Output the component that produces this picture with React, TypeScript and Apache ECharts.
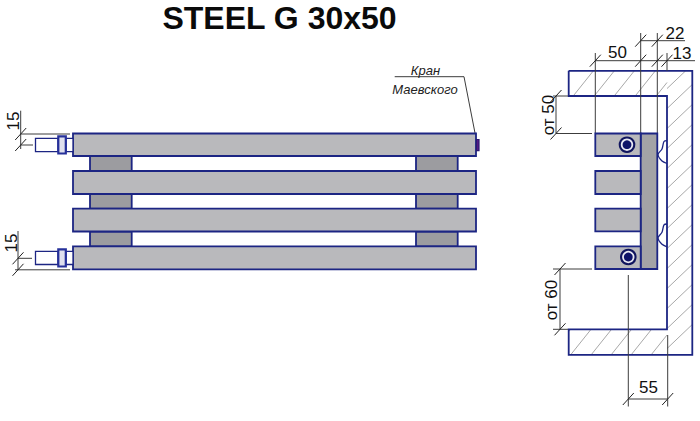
import React, { useEffect, useRef } from "react";
import * as echarts from "echarts";

const titleText = "STEEL G 30x50";
const NAVY = "#1c2583";
const DIM = "#3c3c3c";
const HATCH = "#a8a8a8";

// x0, y0, x1, y1 in drawing units
const frontTubes = [
  [73, 133.5, 476, 156],
  [73, 171, 476, 194],
  [73, 208.7, 476, 231.5],
  [73, 246.3, 476, 269.3],
];
const frontSpacers = [
  [90, 156, 131.7, 171],
  [90, 194, 131.7, 208.7],
  [90, 231.5, 131.7, 246.3],
  [416, 156, 457.7, 171],
  [416, 194, 457.7, 208.7],
  [416, 231.5, 457.7, 246.3],
];
const pipes = [
  [35.5, 138.3, 58, 151.7],
  [66, 138.3, 73, 151.7],
  [35.5, 251.3, 58, 264.5],
  [66, 251.3, 73, 264.5],
];
const couplings = [
  [58.3, 136.3, 65.8, 153.5],
  [58.3, 249.3, 65.8, 266.5],
];
const airValve = [[476.5, 139.5, 479, 150.7]];
const sideTubes = [
  [595.3, 133.5, 640.7, 156],
  [595.3, 171, 640.7, 194],
  [595.3, 208.7, 640.7, 231.3],
  [595.3, 246.3, 640.7, 269],
];
const sideColumn = [[640.7, 133.5, 657.3, 269]];
const sidePorts = [
  [627, 144.7],
  [628.3, 257],
];
const wallOutline = [
  [568.7, 70.8],
  [692.3, 70.8],
  [692.3, 354.8],
  [568.7, 354.8],
  [568.7, 329.3],
  [667, 329.3],
  [667, 96],
  [568.7, 96],
  [568.7, 70.8],
];
const brackets = [
  [[667, 140.7], [664, 141.5], [662, 149], [658, 154.5], [662, 161], [667, 163.5]],
  [[667, 224], [664, 224.8], [662, 232.3], [658, 237.8], [662, 244.3], [667, 246.8]],
];
const topArmRegion = [568.7, 70.8, 667, 96];
const wallRegion = [667, 70.8, 692.3, 354.8];
const bottomArmRegion = [568.7, 329.3, 667, 354.8];
const topArmOffsets = [650, 671, 691, 712, 733];
const wallOffsets = [760, 781, 802, 823, 844, 865, 886, 907, 928, 949, 970, 991, 1012, 1033];
const bottomArmOffsets = [834, 854.5, 875, 895, 915, 935, 955];
const armSlope = 0.8;
const wallSlope = 1.05;

const dimensionLines = [
  // 15 upper
  [20.7, 110.7, 20.7, 149],
  [20.7, 134, 70, 134],
  [20.7, 145, 33, 145],
  // 15 lower
  [18, 231, 18, 270],
  [18, 258.3, 32, 258.3],
  [15, 269.8, 70, 269.8],
  // side verticals
  [595.3, 53, 595.3, 133.5],
  [640.7, 33, 640.7, 133.5],
  [657.3, 33, 657.3, 133.5],
  [667, 53, 667, 71],
  [595.3, 60.7, 695, 60.7],
  [640.7, 40.7, 685, 40.7],
  // от 50
  [556, 96, 556, 133.5],
  [553, 96, 568, 96],
  [556, 133.5, 592, 133.5],
  // от 60
  [560, 269, 560, 329.3],
  [553, 269, 592, 269],
  [553, 329.3, 568, 329.3],
  // 55
  [628.3, 275, 628.3, 406.5],
  [667.7, 335, 667.7, 406.5],
  [628.3, 399, 667.7, 399],
];
const dimensionTicks = [
  [20.7, 134], [20.7, 145], [18, 258.3], [18, 269.8],
  [595.3, 60.7], [640.7, 60.7], [657.3, 60.7], [667, 60.7],
  [640.7, 40.7], [657.3, 40.7],
  [556, 96], [556, 133.5], [560, 269], [560, 329.3],
  [628.3, 399], [667.7, 399],
];
const leaderLine = [
  [394.7, 76.7],
  [464, 76.7],
  [475, 133],
];
// label, x, y, rotated
const dimensionLabels: [string, number, number, number][] = [
  ["15", 13.5, 121, 90],
  ["15", 11, 243, 90],
  ["50", 617.5, 52, 0],
  ["22", 675, 33, 0],
  ["13", 682, 53, 0],
  ["от 50", 548.5, 115, 90],
  ["от 60", 551, 300, 90],
  ["55", 648.5, 387.5, 0],
];
const noteLabels: [string, number, number][] = [
  ["Кран", 425.5, 70],
  ["Маевского", 425, 89],
];

const clipHatch = (c: number, k: number, r: number[]) => {
  const [x0, y0, x1, y1] = r;
  const ya = Math.max(y0, (c - x1) / k);
  const yb = Math.min(y1, (c - x0) / k);
  if (ya >= yb) return null;
  return [c - k * ya, ya, c - k * yb, yb];
};
const hatchLines: number[][] = [];
const addHatch = (offsets: number[], k: number, r: number[]) =>
  offsets.forEach((c) => {
    const s = clipHatch(c, k, r);
    if (s) hatchLines.push(s);
  });
addHatch(topArmOffsets, armSlope, topArmRegion);
addHatch(wallOffsets, wallSlope, wallRegion);
addHatch(bottomArmOffsets, armSlope, bottomArmRegion);

const base = { type: "custom", coordinateSystem: "cartesian2d", silent: true, clip: false, animation: false };

const rects = (data: number[][], fill: string, stroke: string, lineWidth: number) => ({
  ...base,
  data,
  renderItem: (_p: any, api: any) => {
    const a = api.coord([api.value(0), api.value(1)]);
    const b = api.coord([api.value(2), api.value(3)]);
    return {
      type: "rect",
      shape: { x: a[0], y: a[1], width: b[0] - a[0], height: b[1] - a[1] },
      style: { fill, stroke, lineWidth },
    };
  },
});
const segments = (data: number[][], stroke: string, lineWidth: number) => ({
  ...base,
  data,
  renderItem: (_p: any, api: any) => {
    const a = api.coord([api.value(0), api.value(1)]);
    const b = api.coord([api.value(2), api.value(3)]);
    return {
      type: "line",
      shape: { x1: a[0], y1: a[1], x2: b[0], y2: b[1] },
      style: { stroke, lineWidth, fill: "none" },
    };
  },
});
const polyline = (lines: number[][][], stroke: string, lineWidth: number, smooth = 0) => ({
  ...base,
  data: lines.map((_l, i) => [i]),
  renderItem: (_p: any, api: any) => ({
    type: "polyline",
    shape: { points: lines[api.value(0)].map((p) => api.coord(p)), smooth },
    style: { stroke, lineWidth, fill: "none" },
  }),
});
const ticks = (data: number[][], stroke: string, lineWidth: number) => ({
  ...base,
  data,
  renderItem: (_p: any, api: any) => {
    const a = api.coord([api.value(0) - 5.5, api.value(1) + 6]);
    const b = api.coord([api.value(0) + 5.5, api.value(1) - 6]);
    return {
      type: "line",
      shape: { x1: a[0], y1: a[1], x2: b[0], y2: b[1] },
      style: { stroke, lineWidth },
    };
  },
});
const ports = (data: number[][]) => ({
  ...base,
  data,
  renderItem: (_p: any, api: any) => {
    const c = api.coord([api.value(0), api.value(1)]);
    const ring = (r: number, fill: string) => ({
      type: "circle",
      shape: { cx: c[0], cy: c[1], r },
      style: { fill },
    });
    return {
      type: "group",
      children: [ring(8.3, "#10155e"), ring(6.2, "#e8e8f2"), ring(4.4, "#0d1268")],
    };
  },
});
const labels = (data: [string, number, number, number][], font: any) => ({
  ...base,
  data: data.map((d, i) => [d[1], d[2], i]),
  renderItem: (_p: any, api: any) => {
    const p = api.coord([api.value(0), api.value(1)]);
    const d = data[api.value(2)];
    return {
      type: "text",
      x: p[0],
      y: p[1],
      rotation: (d[3] * Math.PI) / 180,
      style: { text: d[0], align: "center", verticalAlign: "middle", ...font },
    };
  },
});

export default function App() {
  const ref = useRef<HTMLDivElement>(null);
  useEffect(() => {
    document.body.style.margin = "0";
    const chart = echarts.init(ref.current!, undefined, { renderer: "svg" });
    chart.setOption({
      animation: false,
      backgroundColor: "#ffffff",
      title: {
        text: titleText,
        left: 274.5,
        top: -3,
        textAlign: "center",
        textStyle: { fontFamily: "Liberation Sans", fontSize: 32, fontWeight: "bold", color: "#0a0a0a" },
      },
      grid: { left: 0, right: 0, top: 0, bottom: 0 },
      xAxis: { type: "value", min: 0, max: 700, show: false },
      yAxis: { type: "value", min: 0, max: 421, inverse: true, show: false },
      series: [
        segments(hatchLines, HATCH, 1),
        polyline([wallOutline], NAVY, 1.8),
        segments(dimensionLines, DIM, 1),
        ticks(dimensionTicks, "#222222", 1),
        polyline([leaderLine], DIM, 1),
        rects(frontSpacers, "#9c9ca0", NAVY, 1.8),
        rects(frontTubes, "#b9b9bc", NAVY, 1.8),
        rects(pipes, "#ffffff", NAVY, 1.3),
        rects(couplings, "#dfe0ee", "#26309a", 2.2),
        rects(airValve, "#5a1a88", "#2a1a70", 1.2),
        rects(sideColumn, "#a3a3a6", NAVY, 1.8),
        rects(sideTubes, "#b9b9bc", NAVY, 1.8),
        ports(sidePorts),
        polyline(brackets, NAVY, 1.3, 0.3),
        labels(dimensionLabels, { fontFamily: "Liberation Sans", fontSize: 17, fill: "#111111" }),
        labels(noteLabels.map((n) => [n[0], n[1], n[2], 0]), {
          fontFamily: "Liberation Sans",
          fontSize: 13,
          fontStyle: "italic",
          fill: "#222222",
        }),
      ],
    });
    return () => chart.dispose();
  }, []);
  return <div ref={ref} style={{ width: 700, height: 421 }} />;
}
